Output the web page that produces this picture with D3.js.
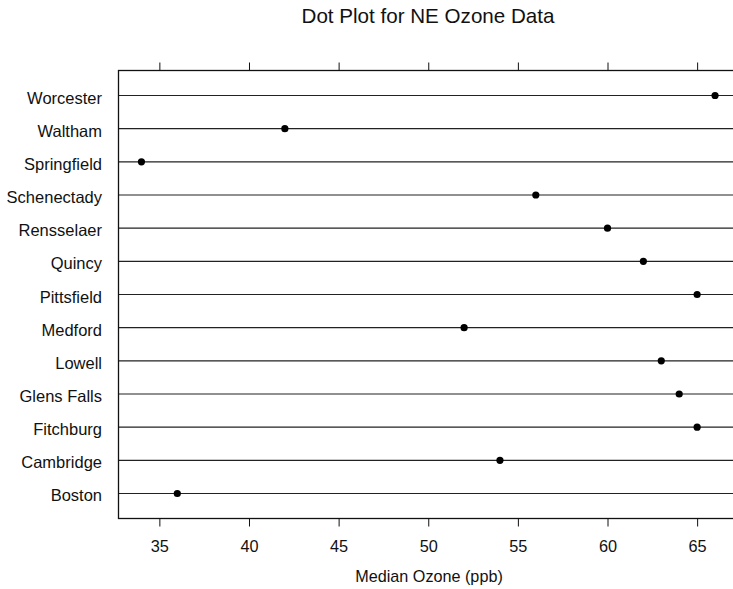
<!DOCTYPE html>
<html>
<head>
<meta charset="utf-8">
<script src="https://cdn.jsdelivr.net/npm/d3@7"></script>
<style>
  html, body { margin: 0; padding: 0; background: #fff; }
  svg { display: block; font-family: "Liberation Sans", Arial, Helvetica, sans-serif; }
</style>
</head>
<body>
<svg id="chart" width="733" height="589"></svg>
<script>
// Median ozone (ppb) by site, listed bottom to top
const sites = ["Boston", "Cambridge", "Fitchburg", "Glens Falls", "Lowell", "Medford",
               "Pittsfield", "Quincy", "Rensselaer", "Schenectady", "Springfield", "Waltham", "Worcester"];
const ozone = [36, 54, 65, 64, 63, 52, 65, 62, 60, 56, 34, 42, 66];
const xTicks = [35, 40, 45, 50, 55, 60, 65];

const svg = d3.select("#chart");
const plotLeft = 118.5, plotRight = 738, plotTop = 70.5, plotBottom = 518.5;

// x range padded by 4% on each side
const lo = d3.min(ozone), hi = d3.max(ozone), pad = (hi - lo) * 0.04;
const x = d3.scaleLinear().domain([lo - pad, hi + pad]).range([plotLeft, plotRight]);
const y = d3.scaleLinear().domain([1 - 0.754, sites.length + 0.754]).range([plotBottom, plotTop]);

const g = svg.append("g");

// horizontal guide lines
g.selectAll("line.guide").data(sites).join("line")
  .attr("class", "guide")
  .attr("x1", plotLeft).attr("x2", plotRight)
  .attr("y1", (d, i) => y(i + 1)).attr("y2", (d, i) => y(i + 1))
  .attr("stroke", "#222").attr("stroke-width", 1.1);

// plot box
g.append("rect")
  .attr("x", plotLeft).attr("y", plotTop)
  .attr("width", plotRight - plotLeft).attr("height", plotBottom - plotTop)
  .attr("fill", "none").attr("stroke", "#111").attr("stroke-width", 1.3);

// bottom and top axes
const bottomAxis = d3.axisBottom(x).tickValues(xTicks).tickSize(8).tickPadding(13.5).tickSizeOuter(0);
const topAxis = d3.axisTop(x).tickValues(xTicks).tickSize(8).tickFormat("").tickSizeOuter(0);

const bx = svg.append("g").attr("transform", `translate(0,${plotBottom})`).call(bottomAxis);
const tx = svg.append("g").attr("transform", `translate(0,${plotTop})`).call(topAxis);
[bx, tx].forEach(a => {
  a.select(".domain").remove();
  a.selectAll(".tick line").attr("stroke", "#111").attr("stroke-width", 1);
});
bx.selectAll(".tick text")
  .attr("font-size", 16.3).attr("fill", "#111")
  .attr("font-family", "'Liberation Sans', Arial, sans-serif");

// site labels
g.selectAll("text.site").data(sites).join("text")
  .attr("class", "site")
  .attr("x", 102).attr("y", (d, i) => y(i + 1) + 8)
  .attr("text-anchor", "end")
  .attr("font-size", 16.5).attr("fill", "#111")
  .text(d => d);

// dots
g.selectAll("circle.dot").data(ozone).join("circle")
  .attr("class", "dot")
  .attr("cx", d => x(d)).attr("cy", (d, i) => y(i + 1))
  .attr("r", 3.6).attr("fill", "#000");

// titles
svg.append("text")
  .attr("x", 428).attr("y", 23)
  .attr("text-anchor", "middle").attr("font-size", 20.6).attr("fill", "#111")
  .text("Dot Plot for NE Ozone Data");

svg.append("text")
  .attr("x", 429).attr("y", 582)
  .attr("text-anchor", "middle").attr("font-size", 16.2).attr("fill", "#111")
  .text("Median Ozone (ppb)");
</script>
</body>
</html>
